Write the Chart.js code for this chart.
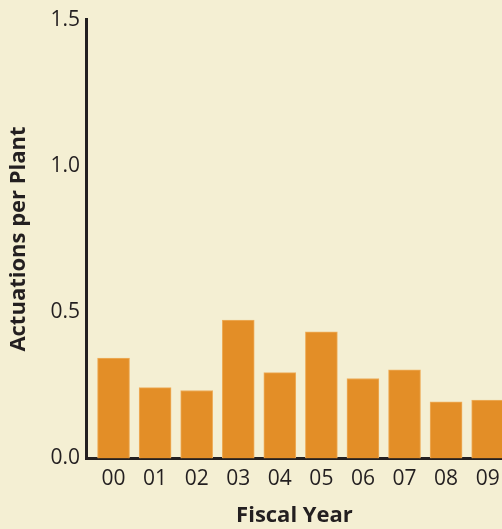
<!DOCTYPE html>
<html>
<head>
<meta charset="utf-8">
<script src="https://cdn.jsdelivr.net/npm/chart.js@4"></script>
<style>
  html, body { margin: 0; padding: 0; background: #f4efd3; overflow: hidden; width: 502px; height: 529px; }
  #wrap { width: 502px; height: 529px; position: relative; overflow: hidden; }
</style>
</head>
<body>
<div id="wrap"><canvas id="c" width="520" height="529"></canvas></div>
<script>
const categories = ['00', '01', '02', '03', '04', '05', '06', '07', '08', '09'];
const actuations = [0.343, 0.242, 0.232, 0.473, 0.293, 0.433, 0.273, 0.303, 0.193, 0.199];
const yTicks = [0.0, 0.5, 1.0, 1.5];

const points = categories.map((c, i) => ({ x: i, y: actuations[i] }));

const bgPlugin = {
  id: 'bg',
  beforeDraw(chart) {
    const ctx = chart.ctx;
    ctx.save();
    ctx.fillStyle = '#f4efd3';
    ctx.fillRect(0, 0, chart.width, chart.height);
    ctx.restore();
  }
};

new Chart(document.getElementById('c'), {
  type: 'bar',
  data: {
    datasets: [{
      data: points,
      backgroundColor: '#e38e27',
      borderColor: '#eeae5c',
      borderWidth: { top: 1, left: 1, right: 1, bottom: 0 },
      borderSkipped: 'bottom',
      barThickness: 32
    }]
  },
  options: {
    responsive: false,
    animation: false,
    layout: { padding: { top: 10, right: 18, left: 6, bottom: 0 } },
    plugins: { legend: { display: false }, tooltip: { enabled: false } },
    scales: {
      x: {
        type: 'linear',
        offset: false,
        min: -0.64,
        max: 9.345,
        afterBuildTicks(axis) { axis.ticks = categories.map((c, i) => ({ value: i })); },
        grid: { display: false, drawTicks: false, offset: false },
        border: { display: true, color: '#231f20', width: 3 },
        ticks: {
          color: '#231f20',
          font: { family: 'Open Sans', size: 21 },
          padding: 8,
          autoSkip: false,
          maxRotation: 0,
          callback: (v) => categories[v]
        },
        title: {
          display: true,
          text: 'Fiscal Year',
          color: '#231f20',
          font: { family: 'Open Sans', size: 22, weight: 'bold' },
          padding: { top: 3, bottom: 0 }
        }
      },
      y: {
        min: 0,
        max: 1.5,
        afterBuildTicks(axis) { axis.ticks = yTicks.map(v => ({ value: v })); },
        grid: { display: false, drawTicks: false },
        border: { display: true, color: '#231f20', width: 3 },
        ticks: {
          color: '#231f20',
          font: { family: 'Open Sans', size: 21 },
          padding: 7,
          callback: (v) => Number(v).toFixed(1)
        },
        title: {
          display: true,
          text: 'Actuations per Plant',
          color: '#231f20',
          font: { family: 'Open Sans', size: 22, weight: 'bold' },
          padding: { top: 0, bottom: 11 }
        }
      }
    }
  },
  plugins: [bgPlugin]
});
</script>
</body>
</html>
